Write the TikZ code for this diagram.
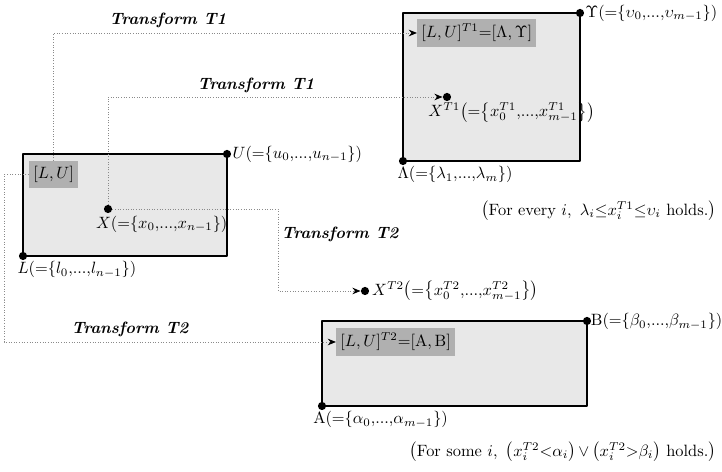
\documentclass[tikz,border=0pt]{standalone}
\usepackage{amsmath,amssymb}
\usepackage{xcolor}
\usepackage{tikz}
\usetikzlibrary{arrows.meta}
\definecolor{boxfill}{HTML}{E8E8E8}
\definecolor{tagfill}{HTML}{B0B0B0}
\definecolor{dotline}{HTML}{8A8A8A}
\newcommand{\eqset}[2]{#1\!\left({=}\!\left\{#2\right\}\right)}
\newcommand{\tdots}{{,}{.}{.}{.}{,}}
\tikzset{fig/.style={line join=round,>=Stealth,x=0.61pt,y=-0.61pt},
  region/.style={draw=black,line width=1.3pt,fill=boxfill},
  vertex/.style={circle,fill=black,inner sep=0pt,minimum size=5pt},
  tag/.style={fill=tagfill,inner xsep=2.5pt,inner ysep=0pt,minimum height=16.5pt},
  conn/.style={draw=dotline,densely dotted,line width=0.6pt,-{Stealth[length=5pt,width=4pt,black]}},
  ttl/.style={font=\bfseries\itshape},
  lbl/.style={inner sep=0.5pt}}

\begin{document}
\begin{tikzpicture}[fig]
  \useasboundingbox(0,0)rectangle(722,472);
  \draw[region](23,256)rectangle(227,154);
  \draw[region](403,161)rectangle(580,13);
  \draw[region](322,406)rectangle(587,321);
  \node[vertex](l)at(23,256){};
  \node[vertex](u)at(227,154){};
  \node[vertex](x)at(108,209){};
  \node[vertex](lam)at(403,161){};
  \node[vertex](ups)at(580,13){};
  \node[vertex](xa)at(447,97){};
  \node[vertex](xb)at(365,291){};
  \node[vertex](alp)at(322,406){};
  \node[vertex](bet)at(587,321){};
  \coordinate(bendx)at(278,250);
  \coordinate(bendl)at(4,300);
  \node[tag,anchor=north west](lu)at(29,161){$[L,U]$};
  \node[tag,anchor=west](lua)at(417,33){$[L,U]^{T1}{=}[\Lambda,\Upsilon]$};
  \node[tag,anchor=west](lub)at(336,342){$[L,U]^{T2}{=}[\mathrm{A},\mathrm{B}]$};
  \node[lbl,anchor=west](ulab)at(u.east){$\eqset{U}{u_0\tdots u_{n-1}}$};
  \node[lbl,anchor=north west](llab)at([xshift=-4pt]l.south){$\eqset{L}{l_0\tdots l_{n-1}}$};
  \node[lbl,anchor=north west](xlab)at([xshift=-8pt,yshift=-1pt]x.south){$\eqset{X}{x_0\tdots x_{n-1}}$};
  \node[lbl,anchor=west](upslab)at(ups.east){$\eqset{\Upsilon}{\upsilon_0\tdots\upsilon_{m-1}}$};
  \node[lbl,anchor=north west](lamlab)at([xshift=-4pt]lam.south){$\eqset{\Lambda}{\lambda_1\tdots\lambda_m}$};
  \node[lbl,anchor=north west](xalab)at([xshift=-12pt]xa.south){$\eqset{X^{T1}}{x_0^{T1}\tdots x_{m-1}^{T1}}$};
  \node[lbl,anchor=west](xblab)at([xshift=1pt]xb.east){$\eqset{X^{T2}}{x_0^{T2}\tdots x_{m-1}^{T2}}$};
  \node[lbl,anchor=south west](betlab)at([xshift=-1pt,yshift=-6pt]bet.east){$\eqset{\mathrm{B}}{\beta_0\tdots\beta_{m-1}}$};
  \node[lbl,anchor=north west](alplab)at([xshift=-6pt]alp.south){$\eqset{\mathrm{A}}{\alpha_0\tdots\alpha_{m-1}}$};
  \node[lbl,anchor=east](cond1)at(717,211){$\left(\text{For every } i,\ \lambda_i{\le}x_i^{T1}{\le}\upsilon_i\ \text{holds.}\right)$};
  \node[lbl,anchor=east](cond2)at(717,452){$\left(\text{For some } i,\ \left(x_i^{T2}{<}\alpha_i\right){\vee}\left(x_i^{T2}{>}\beta_i\right)\,\text{holds.}\right)$};
  \node[ttl](t1a)at(168,20){Transform T1};
  \node[ttl](t1b)at(256,85){Transform T1};
  \node[ttl](t2a)at(340,234){Transform T2};
  \node[ttl](t2b)at(130,329){Transform T2};
  \draw[conn](lu.north)|-(lua.west);
  \draw[conn](x)|-(xa);
  \draw[conn](x)-|(bendx)|-(xb);
  \draw[conn](lu.west)-|(bendl)|-(lub.west);
\end{tikzpicture}
\end{document}
